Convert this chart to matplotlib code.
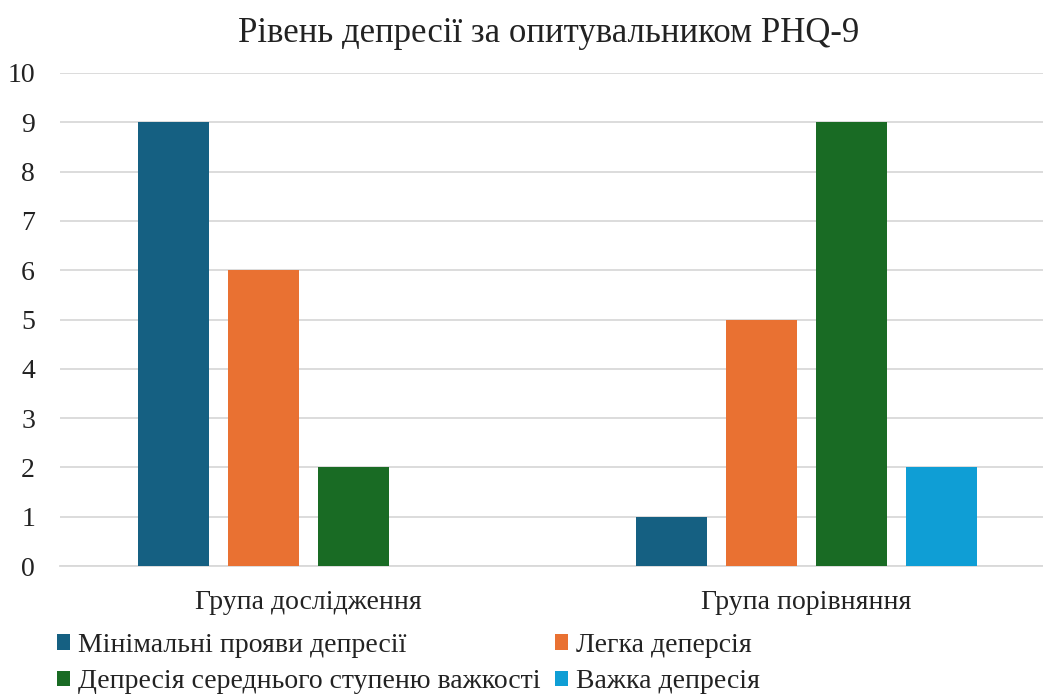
import matplotlib
matplotlib.use("Agg")
import matplotlib.pyplot as plt
from matplotlib.patches import Patch
import numpy as np

plt.rcParams['font.family'] = ['Liberation Serif', 'DejaVu Serif']

title = "Рівень депресії за опитувальником PHQ-9"
groups = ["Група дослідження", "Група порівняння"]
series = ["Мінімальні прояви депресії", "Легка деперсія",
          "Депресія середнього ступеню важкості", "Важка депресія"]
values = [
    [9, 1],   # Мінімальні прояви депресії
    [6, 5],   # Легка деперсія
    [2, 9],   # Депресія середнього ступеню важкості
    [0, 2],   # Важка депресія
]
colors = ["#156082", "#E97132", "#196B24", "#0F9ED5"]
yticks = list(range(0, 11))

W, H = 1043, 695
fig = plt.figure(figsize=(W / 100, H / 100), dpi=100)
ax_left, ax_right = 60, 1055
ax_bottom, ax_top = 566, 73
ax = fig.add_axes([ax_left / W, 1 - ax_bottom / H,
                   (ax_right - ax_left) / W, (ax_bottom - ax_top) / H])

x = np.arange(len(groups))
step = 0.181
width = 0.143
for i, (name, vals, c) in enumerate(zip(series, values, colors)):
    ax.bar(x + (i - 1.5) * step, vals, width=width, color=c, label=name, zorder=3)

ax.set_xlim(-0.5, 1.5)
ax.set_ylim(0, 10)
ax.set_yticks(yticks)
ax.set_yticklabels([str(t) for t in yticks], fontsize=20)
ax.set_xticks(x)
ax.set_xticklabels(groups, fontsize=20)
ax.tick_params(axis='both', length=0, colors='#222222')
ax.tick_params(axis='y', pad=18)
ax.tick_params(axis='x', pad=17)
ax.grid(axis='y', color='#d9d9d9', linewidth=1.3, zorder=0)
for s in ax.spines.values():
    s.set_visible(False)
ax.spines['bottom'].set_visible(True)
ax.spines['bottom'].set_color('#d9d9d9')
ax.spines['bottom'].set_linewidth(1.3)

fig.text(549 / W, 1 - 33 / H, title, ha='center', va='center', fontsize=25, color='#222222')

order = [0, 2, 1, 3]
handles = [Patch(facecolor=colors[i], edgecolor='none') for i in order]
labels = [series[i] for i in order]
fig.legend(handles, labels, ncol=2, loc='upper left',
           bbox_to_anchor=(57 / W, 1 - 633 / H), frameon=False,
           fontsize=20, handlelength=0.47, handleheight=0.47, handletextpad=0.3,
           columnspacing=0.5, labelspacing=0.4, borderaxespad=0, borderpad=0,
           labelcolor='#222222')

fig.savefig("out.png", dpi=100)
